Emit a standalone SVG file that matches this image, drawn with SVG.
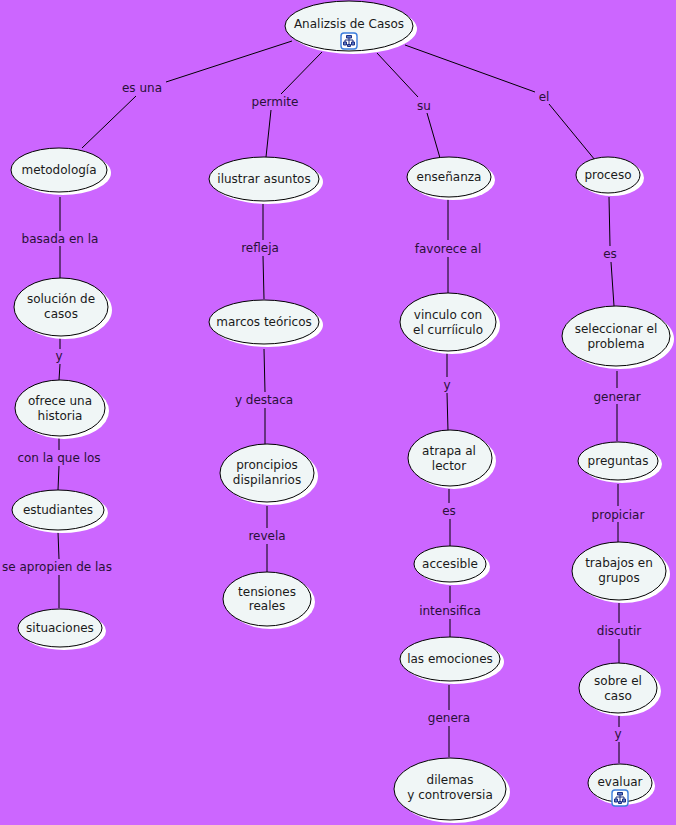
<svg xmlns="http://www.w3.org/2000/svg" width="676" height="825" viewBox="0 0 676 825">
<style>
text{font-family:"DejaVu Sans",Verdana,sans-serif;font-size:12px;text-anchor:middle;fill:#1a1a1a}
.l{fill:#2a1038}
.c line{stroke:#000;stroke-width:1}
.s{fill:#fff}
.e{fill:#f0f6f6;stroke:#000;stroke-width:1}
.i rect{fill:#fff;stroke:#3b7ddd;stroke-width:1.4}
.i path{fill:#5a78c8;stroke:#1c2f80;stroke-width:1}
.i path.w{fill:none}
</style>
<defs>
<g id="ic" class="i"><rect x="-8" y="-8" width="16" height="16" rx="3"/><path class="w" d="M0-3v7M-4-1h8M-4-1v2M4-1v2"/><path d="M-2.500-5.500h5v2.500h-5zM-5.500 1h3v3h-3zM2.500 1h3v3h-3zM-1.500 3.500h3v2h-3z"/></g>
</defs>
<rect width="676" height="825" fill="#cc66ff"/>
<g class="c" id="connectors">
<line x1="292" y1="41" x2="166" y2="82"/><line x1="136" y1="96" x2="82" y2="148"/>
<line x1="322" y1="52" x2="281" y2="94"/><line x1="271" y1="110" x2="266" y2="157"/>
<line x1="377" y1="53" x2="418" y2="97"/><line x1="427" y1="113" x2="440" y2="158"/>
<line x1="405" y1="45" x2="535" y2="92"/><line x1="549" y1="104" x2="595" y2="160"/>
<line x1="60" y1="197" x2="60" y2="231"/><line x1="60" y1="246" x2="60" y2="278"/>
<line x1="60" y1="337" x2="60" y2="349"/><line x1="60" y1="364" x2="59" y2="380"/>
<line x1="59" y1="437" x2="59" y2="450"/><line x1="59" y1="466" x2="58" y2="490"/>
<line x1="58" y1="532" x2="59" y2="559"/><line x1="59" y1="575" x2="59" y2="608"/>
<line x1="263" y1="204" x2="263" y2="240"/><line x1="263" y1="256" x2="264" y2="299"/>
<line x1="264" y1="349" x2="265" y2="392"/><line x1="265" y1="408" x2="265" y2="444"/>
<line x1="267" y1="506" x2="267" y2="528"/><line x1="267" y1="544" x2="267" y2="572"/>
<line x1="448" y1="199" x2="448" y2="240"/><line x1="448" y1="257" x2="448" y2="295"/>
<line x1="447" y1="353" x2="447" y2="377"/><line x1="447" y1="393" x2="448" y2="431"/>
<line x1="449" y1="489" x2="449" y2="503"/><line x1="450" y1="519" x2="450" y2="546"/>
<line x1="450" y1="586" x2="450" y2="603"/><line x1="450" y1="619" x2="450" y2="637"/>
<line x1="449" y1="685" x2="449" y2="710"/><line x1="449" y1="726" x2="449" y2="757"/>
<line x1="609" y1="197" x2="610" y2="246"/><line x1="611" y1="262" x2="614" y2="306"/>
<line x1="617" y1="371" x2="617" y2="388"/><line x1="617" y1="404" x2="617" y2="441"/>
<line x1="618" y1="484" x2="618" y2="506"/><line x1="618" y1="522" x2="618" y2="543"/>
<line x1="619" y1="603" x2="619" y2="623"/><line x1="619" y1="639" x2="619" y2="663"/>
<line x1="619" y1="716" x2="619" y2="727"/><line x1="619" y1="742" x2="619" y2="763"/>
</g>
<g id="labels">
<text class="l" x="142" y="92">es una</text>
<text class="l" x="275" y="106">permite</text>
<text class="l" x="424" y="110">su</text>
<text class="l" x="544" y="101">el</text>
<text class="l" x="60" y="243">basada en la</text>
<text class="l" x="59" y="360">y</text>
<text class="l" x="59" y="462">con la que los</text>
<text class="l" x="57" y="571">se apropien de las</text>
<text class="l" x="260" y="252">refleja</text>
<text class="l" x="264" y="404">y destaca</text>
<text class="l" x="267" y="540">revela</text>
<text class="l" x="448" y="253">favorece al</text>
<text class="l" x="447" y="389">y</text>
<text class="l" x="449" y="515">es</text>
<text class="l" x="450" y="615">intensifica</text>
<text class="l" x="449" y="722">genera</text>
<text class="l" x="610" y="258">es</text>
<text class="l" x="617" y="401">generar</text>
<text class="l" x="618" y="519">propiciar</text>
<text class="l" x="619" y="635">discutir</text>
<text class="l" x="618" y="738">y</text>
</g>
<g id="n1"><ellipse class="s" cx="353" cy="29" rx="64" ry="25"/><ellipse class="e" cx="349" cy="26" rx="64" ry="25"/><text x="349" y="28">Analizsis de Casos</text><use href="#ic" x="349" y="41"/></g>
<g id="n2"><ellipse class="s" cx="63" cy="173" rx="48" ry="22"/><ellipse class="e" cx="59" cy="170" rx="48" ry="22"/><text x="59" y="174">metodología</text></g>
<g id="n3"><ellipse class="s" cx="268" cy="182" rx="55" ry="22"/><ellipse class="e" cx="264" cy="179" rx="55" ry="22"/><text x="264" y="183">ilustrar asuntos</text></g>
<g id="n4"><ellipse class="s" cx="453" cy="180" rx="42" ry="20"/><ellipse class="e" cx="449" cy="177" rx="42" ry="20"/><text x="449" y="181">enseñanza</text></g>
<g id="n5"><ellipse class="s" cx="612" cy="178" rx="32" ry="18"/><ellipse class="e" cx="608" cy="175" rx="32" ry="18"/><text x="608" y="179">proceso</text></g>
<g id="n6"><ellipse class="s" cx="65" cy="310" rx="47" ry="29"/><ellipse class="e" cx="61" cy="307" rx="47" ry="29"/><text x="61" y="303">solución de</text><text x="61" y="318">casos</text></g>
<g id="n7"><ellipse class="s" cx="268" cy="325" rx="55" ry="22"/><ellipse class="e" cx="264" cy="322" rx="55" ry="22"/><text x="264" y="326">marcos teóricos</text></g>
<g id="n8"><ellipse class="s" cx="452" cy="325" rx="48" ry="29"/><ellipse class="e" cx="448" cy="322" rx="48" ry="29"/><text x="448" y="319">vinculo con</text><text x="448" y="334">el curríiculo</text></g>
<g id="n9"><ellipse class="s" cx="620" cy="339" rx="54" ry="30"/><ellipse class="e" cx="616" cy="336" rx="54" ry="30"/><text x="616" y="333">seleccionar el</text><text x="616" y="348">problema</text></g>
<g id="n10"><ellipse class="s" cx="64" cy="411" rx="45" ry="28"/><ellipse class="e" cx="60" cy="408" rx="45" ry="28"/><text x="60" y="405">ofrece una</text><text x="60" y="420">historia</text></g>
<g id="n11"><ellipse class="s" cx="271" cy="476" rx="47" ry="29"/><ellipse class="e" cx="267" cy="473" rx="47" ry="29"/><text x="267" y="469">proncipios</text><text x="267" y="484">dispilanrios</text></g>
<g id="n12"><ellipse class="s" cx="454" cy="461" rx="42" ry="28"/><ellipse class="e" cx="450" cy="458" rx="42" ry="28"/><text x="449" y="455">atrapa al</text><text x="449" y="470">lector</text></g>
<g id="n13"><ellipse class="s" cx="622" cy="464" rx="40" ry="19"/><ellipse class="e" cx="618" cy="461" rx="40" ry="19"/><text x="618" y="465">preguntas</text></g>
<g id="n14"><ellipse class="s" cx="62" cy="513" rx="46" ry="20"/><ellipse class="e" cx="58" cy="510" rx="46" ry="20"/><text x="58" y="514">estudiantes</text></g>
<g id="n15"><ellipse class="s" cx="454" cy="567" rx="36" ry="18"/><ellipse class="e" cx="450" cy="564" rx="36" ry="18"/><text x="450" y="568">accesible</text></g>
<g id="n16"><ellipse class="s" cx="271" cy="602" rx="44" ry="27"/><ellipse class="e" cx="267" cy="599" rx="44" ry="27"/><text x="267" y="596">tensiones</text><text x="267" y="610">reales</text></g>
<g id="n17"><ellipse class="s" cx="623" cy="574" rx="47" ry="29"/><ellipse class="e" cx="619" cy="571" rx="47" ry="29"/><text x="619" y="567">trabajos en</text><text x="619" y="582">grupos</text></g>
<g id="n18"><ellipse class="s" cx="64" cy="631" rx="42" ry="19"/><ellipse class="e" cx="60" cy="628" rx="42" ry="19"/><text x="60" y="632">situaciones</text></g>
<g id="n19"><ellipse class="s" cx="454" cy="662" rx="50" ry="22"/><ellipse class="e" cx="450" cy="659" rx="50" ry="22"/><text x="450" y="663">las emociones</text></g>
<g id="n20"><ellipse class="s" cx="622" cy="691" rx="39" ry="25"/><ellipse class="e" cx="618" cy="688" rx="39" ry="25"/><text x="618" y="685">sobre el</text><text x="618" y="700">caso</text></g>
<g id="n21"><ellipse class="s" cx="454" cy="792" rx="56" ry="31"/><ellipse class="e" cx="450" cy="789" rx="56" ry="31"/><text x="450" y="784">dilemas</text><text x="450" y="799">y controversia</text></g>
<g id="n22"><ellipse class="s" cx="623" cy="786" rx="32" ry="19"/><ellipse class="e" cx="620" cy="783" rx="32" ry="19"/><text x="620" y="786">evaluar</text><use href="#ic" x="620" y="798"/></g>
</svg>
